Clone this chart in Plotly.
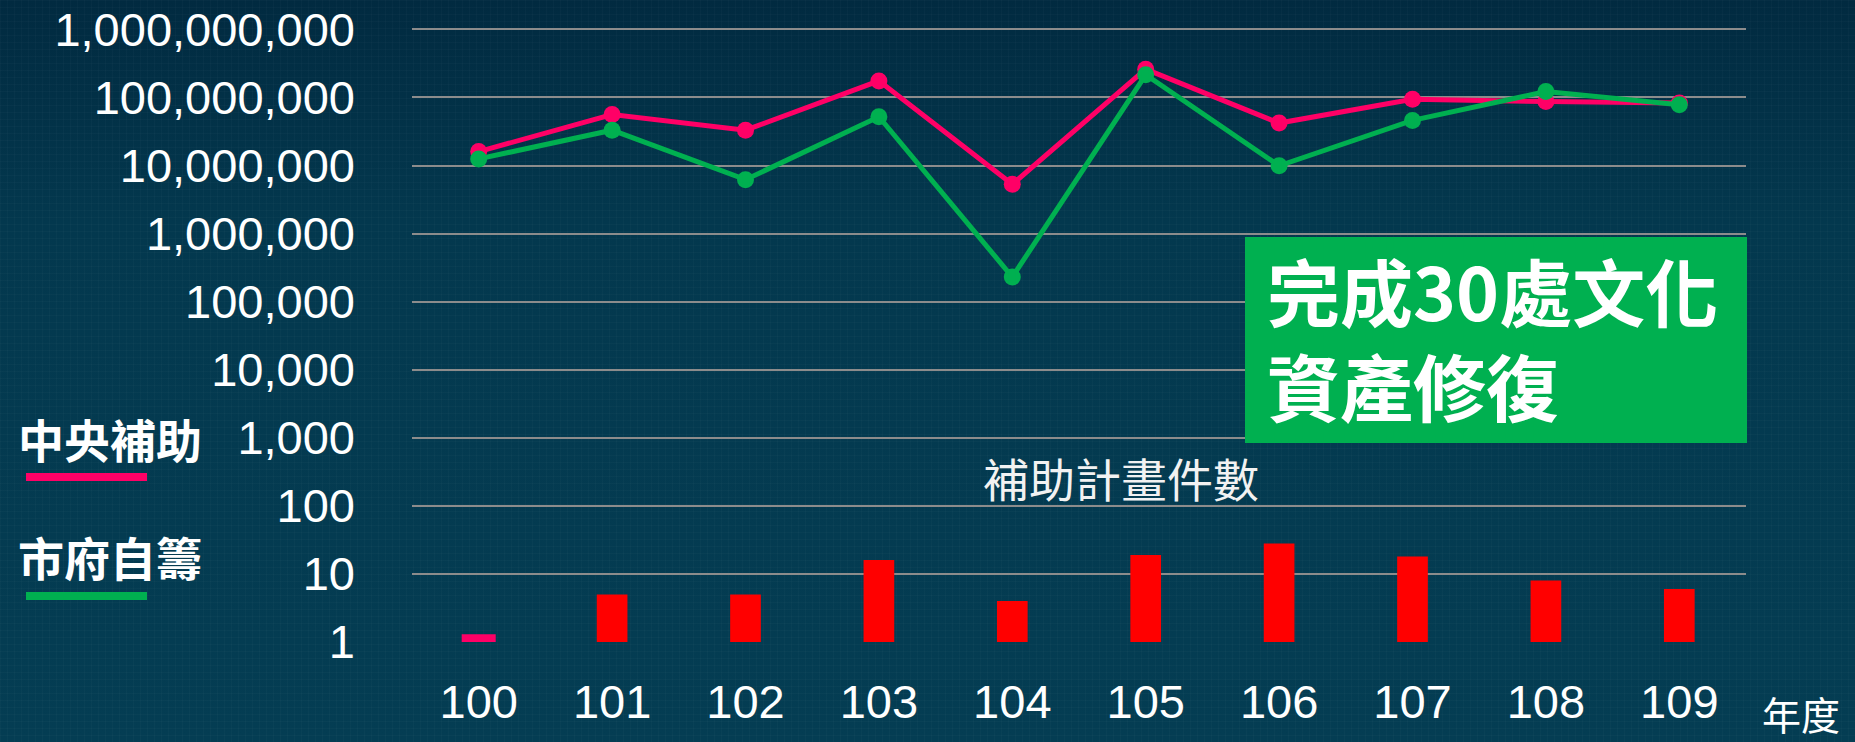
import base64
import plotly.graph_objects as go

# ---------------- data ----------------
years = ["100", "101", "102", "103", "104", "105", "106", "107", "108", "109"]
central_subsidy = [1.6e7, 5.6e7, 3.3e7, 1.75e8, 5.3e6, 2.6e8, 4.2e7, 9.4e7, 8.7e7, 8.3e7]   # 中央補助
city_funding = [1.25e7, 3.3e7, 6.2e6, 5.2e7, 2.3e5, 2.15e8, 9.9e6, 4.6e7, 1.22e8, 7.8e7]    # 市府自籌
project_counts = [1.3, 5, 5, 16, 4, 19, 28, 18, 8, 6]                                       # 補助計畫件數
ytick_vals = [1, 10, 100, 1000, 1e4, 1e5, 1e6, 1e7, 1e8, 1e9]
ytick_text = ["1", "10", "100", "1,000", "10,000", "100,000", "1,000,000",
              "10,000,000", "100,000,000", "1,000,000,000"]

PINK = "#FF0066"
GREEN = "#00B050"
RED = "#FF0000"
BG = "#033a50"

W, H = 1855, 742
ML, MR, MT, MB = 412, 109, 28, 100
PW, PH = W - ML - MR, H - MT - MB


def px(x):
    return (x - ML) / PW


def py(y):
    return (H - MB - y) / PH


fig = go.Figure()

bar_colors = [PINK] + [RED] * (len(years) - 1)
bar_widths = [0.255] + [0.23] * (len(years) - 1)
fig.add_trace(go.Bar(x=years, y=project_counts, width=bar_widths,
                     marker=dict(color=bar_colors, line=dict(width=0)),
                     showlegend=False))
fig.add_trace(go.Scatter(x=years, y=central_subsidy, mode="lines+markers",
                         line=dict(color=PINK, width=5),
                         marker=dict(color=PINK, size=17), showlegend=False))
fig.add_trace(go.Scatter(x=years, y=city_funding, mode="lines+markers",
                         line=dict(color=GREEN, width=5),
                         marker=dict(color=GREEN, size=17), showlegend=False))

# background gradient with subtle grid texture
svg = f'''<svg xmlns="http://www.w3.org/2000/svg" width="{W}" height="{H}">
<defs>
<linearGradient id="g" x1="0" y1="0" x2="0" y2="1">
<stop offset="0" stop-color="#012a40"/>
<stop offset="0.3" stop-color="#03384e"/>
<stop offset="1" stop-color="#043d53"/>
</linearGradient>
<pattern id="p" width="7" height="7" patternUnits="userSpaceOnUse">
<path d="M7 0 L0 0 0 7" fill="none" stroke="#ffffff" stroke-opacity="0.035" stroke-width="1"/>
</pattern>
</defs>
<rect width="100%" height="100%" fill="url(#g)"/>
<rect width="100%" height="100%" fill="url(#p)"/>
</svg>'''
src = "data:image/svg+xml;base64," + base64.b64encode(svg.encode()).decode()
fig.add_layout_image(dict(source=src, xref="paper", yref="paper",
                          x=px(0), y=py(0), sizex=W / PW, sizey=H / PH,
                          xanchor="left", yanchor="top", sizing="stretch",
                          layer="below"))

shapes = []
annotations = []

cjk = "Noto Sans CJK TC"
# legend-like labels on the left
annotations.append(dict(text="<b>中央補助</b>", x=px(16), y=py(438), xref="paper", yref="paper",
                        xanchor="left", yanchor="middle", showarrow=False,
                        font=dict(family=cjk, size=46, color="white")))
annotations.append(dict(text="<b>市府自籌</b>", x=px(16), y=py(556), xref="paper", yref="paper",
                        xanchor="left", yanchor="middle", showarrow=False,
                        font=dict(family=cjk, size=46, color="white")))
shapes.append(dict(type="line", xref="paper", yref="paper", x0=px(26), x1=px(147),
                   y0=py(477), y1=py(477), line=dict(color=PINK, width=8)))
shapes.append(dict(type="line", xref="paper", yref="paper", x0=px(26), x1=px(147),
                   y0=py(596), y1=py(596), line=dict(color=GREEN, width=8)))

# green box
shapes.append(dict(type="rect", xref="paper", yref="paper", x0=px(1245), x1=px(1747),
                   y0=py(237), y1=py(443), fillcolor=GREEN, line=dict(width=0), layer="above"))
annotations.append(dict(text="<b>完成30處文化</b><br><b>資產修復</b>", x=px(1265), y=py(336),
                        xref="paper", yref="paper", align="left",
                        xanchor="left", yanchor="middle", showarrow=False,
                        font=dict(family=cjk, size=73, color="white")))

# bar caption
annotations.append(dict(text="補助計畫件數", x=px(1121), y=py(477), xref="paper", yref="paper",
                        xanchor="center", yanchor="middle", showarrow=False,
                        font=dict(family=cjk, size=46, color="#f2f2f2")))
# x axis unit
annotations.append(dict(text="年度", x=px(1801), y=py(713), xref="paper", yref="paper",
                        xanchor="center", yanchor="middle", showarrow=False,
                        font=dict(family=cjk, size=39, color="white")))

fig.update_layout(
    width=W, height=H,
    margin=dict(l=ML, r=MR, t=MT, b=MB, pad=0, autoexpand=False),
    paper_bgcolor=BG, plot_bgcolor="rgba(0,0,0,0)",
    shapes=shapes, annotations=annotations,
    xaxis=dict(type="category", range=[-0.5, 9.5], showgrid=False, zeroline=False,
               showline=False, ticks="", ticklabelstandoff=28, automargin=False,
               tickfont=dict(family="Liberation Sans, Arial", size=47, color="white")),
    yaxis=dict(type="log", range=[0, 9.02], tickvals=ytick_vals, ticktext=ytick_text,
               showgrid=True, gridcolor="#8c8c8c", gridwidth=2, zeroline=False,
               showline=False, ticks="", ticklabelstandoff=56, automargin=False,
               tickfont=dict(family="Liberation Sans, Arial", size=47, color="white")),
)

fig.write_html("out.html", config={"displayModeBar": False},
               post_script="document.body.style.margin='0';")
